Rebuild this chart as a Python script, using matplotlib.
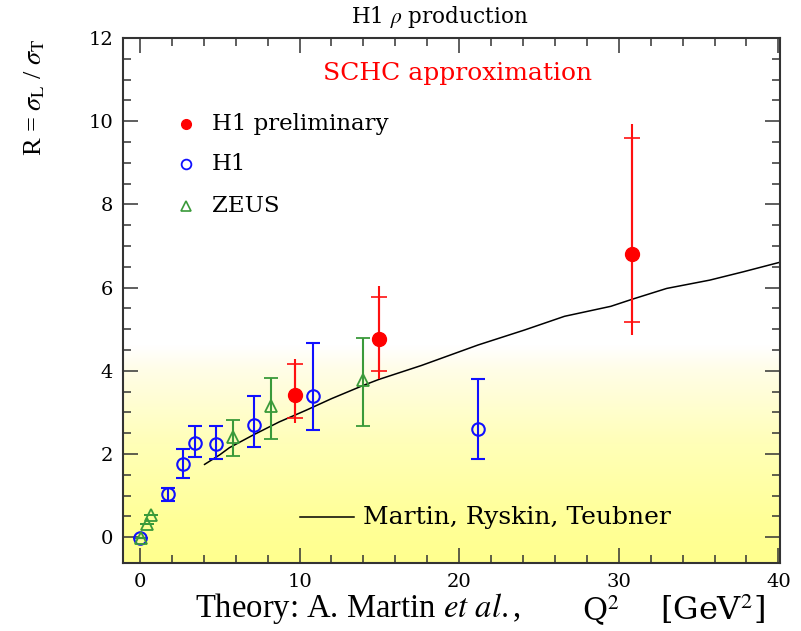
import numpy as np
import matplotlib
matplotlib.use("Agg")
import matplotlib.pyplot as plt
from matplotlib.colors import LinearSegmentedColormap

plt.rcParams['font.family'] = ['DejaVu Serif']
plt.rcParams['mathtext.fontset'] = 'stix'

# ---- data ----
h1p_x = [9.7, 15.0, 30.84]
h1p_y = [3.41, 4.76, 6.80]
h1p_stat_up = [0.76, 1.02, 2.80]
h1p_stat_dn = [0.55, 0.77, 1.62]
h1p_tot_up = [0.87, 1.27, 3.13]
h1p_tot_dn = [0.67, 0.96, 1.94]

h1_x = [0.0, 1.77, 2.70, 3.43, 4.78, 7.17, 10.86, 21.2]
h1_y = [-0.02, 1.05, 1.75, 2.27, 2.24, 2.69, 3.40, 2.61]
h1_up = [0.0, 0.14, 0.36, 0.41, 0.44, 0.71, 1.27, 1.19]
h1_dn = [0.0, 0.18, 0.32, 0.35, 0.37, 0.52, 0.83, 0.72]

zeus_x = [0.05, 0.42, 0.67, 5.82, 8.2, 14.0]
zeus_y = [-0.02, 0.31, 0.53, 2.41, 3.15, 3.77]
zeus_up = [0.0, 0.0, 0.0, 0.40, 0.67, 1.01]
zeus_dn = [0.0, 0.0, 0.0, 0.46, 0.78, 1.10]

mrt_x = [4.05, 5.0, 5.6, 7.06, 8.72, 10.4, 12.0, 14.0, 14.95, 17.65, 21.18,
         24.09, 26.6, 29.5, 30.84, 33.0, 35.7, 37.8, 40.0]
mrt_y = [1.75, 1.98, 2.15, 2.45, 2.77, 3.05, 3.33, 3.65, 3.79, 4.13, 4.62,
         4.98, 5.31, 5.55, 5.72, 5.98, 6.18, 6.38, 6.60]

x_ticks = [0, 10, 20, 30, 40]
y_ticks = [0, 2, 4, 6, 8, 10, 12]

# ---- figure ----
fig = plt.figure(figsize=(8.01, 6.31), dpi=100)
ax = fig.add_axes([123/801, 1-563/631, (780-123)/801, (563-38)/631])
xmin, xmax, ymin, ymax = -1.06, 40.1, -0.62, 12.0
ax.set_xlim(xmin, xmax)
ax.set_ylim(ymin, ymax)

# yellow gradient background (white at top -> yellow at bottom)
cmap = LinearSegmentedColormap.from_list(
    'yel', [(0.0, '#ffffff'), (0.12, '#fffde6'), (0.45, '#ffffb8'),
            (0.8, '#ffff98'), (1.0, '#ffff8e')])
grad = np.linspace(0, 1, 256).reshape(-1, 1)
ax.imshow(grad, extent=[xmin, xmax, ymin, 4.6], aspect='auto', cmap=cmap,
          vmin=0, vmax=1, zorder=0, origin='upper', interpolation='bilinear')

# theory curve
ax.plot(mrt_x, mrt_y, color='black', lw=1.1, zorder=2)

# H1 (blue open circles)
ax.errorbar(h1_x, h1_y, yerr=[h1_dn, h1_up], fmt='o', mfc='none', mec='#1010ff',
            ecolor='#1010ff', ms=9, mew=1.5, elinewidth=1.5, capsize=4.8,
            capthick=1.5, zorder=3)

# ZEUS (green open triangles)
ax.errorbar(zeus_x, zeus_y, yerr=[zeus_dn, zeus_up], fmt='^', mfc='none',
            mec='#3a9a3a', ecolor='#3a9a3a', ms=9, mew=1.3, elinewidth=1.5,
            capsize=4.8, capthick=1.5, zorder=3)

# H1 preliminary (red filled circles), total + stat errors
ax.errorbar(h1p_x, h1p_y, yerr=[h1p_tot_dn, h1p_tot_up], fmt='none',
            ecolor='#ff1010', elinewidth=1.5, capsize=0, zorder=4)
ax.errorbar(h1p_x, h1p_y, yerr=[h1p_stat_dn, h1p_stat_up], fmt='o',
            color='#ff0000', ecolor='#ff1010', ms=10, elinewidth=1.5,
            capsize=5.5, capthick=1.2, zorder=4)

# ticks
ax.set_xticks(x_ticks)
ax.set_yticks(y_ticks)
ax.set_xticks(np.arange(0, 41, 2), minor=True)
ax.set_yticks(np.arange(0, 12.01, 0.5), minor=True)
ax.tick_params(which='both', direction='in', top=True, right=True,
               color='#333333', width=1.1, labelsize=14)
ax.tick_params(which='major', length=11, pad=7)
ax.tick_params(which='minor', length=6)
for s in ax.spines.values():
    s.set_color('#333333')
    s.set_linewidth(1.5)

# legend (manual)
ax.plot([2.9], [9.93], 'o', color='#ff0000', ms=7, zorder=5)
ax.text(4.5, 9.93, 'H1 preliminary', fontsize=16.5, va='center', ha='left')
ax.plot([2.9], [8.97], 'o', mfc='none', mec='#1010ff', mew=1.3, ms=7, zorder=5)
ax.text(4.5, 8.97, 'H1', fontsize=16.5, va='center', ha='left')
ax.plot([2.9], [7.95], '^', mfc='none', mec='#3a9a3a', mew=1.2, ms=7, zorder=5)
ax.text(4.5, 7.95, 'ZEUS', fontsize=16.5, va='center', ha='left')

ax.text(19.9, 11.15, 'SCHC approximation', color='#ff0000', fontsize=18,
        ha='center', va='center')
ax.plot([10.0, 13.4], [0.48, 0.48], color='black', lw=1.1)
ax.text(14.0, 0.48, 'Martin, Ryskin, Teubner', fontsize=18, va='center',
        ha='left')

fig.text(440/801, 1-17/631, r'H1 $\rho$ production', fontsize=15.5,
         ha='center', va='center')
fig.text(35/801, 1-97/631, r'R = $\sigma_{\rm L}$ / $\sigma_{\rm T}$',
         fontsize=19, rotation=90, ha='center', va='center',
         family='Liberation Serif')
fig.text(195/801, 1-609/631, r'Theory: A. Martin $\it{et\ al.}$,', fontsize=23.5,
         ha='left', va='center', family='Liberation Serif')
fig.text(582/801, 1-610/631, r'Q$^{2}$', fontsize=22,
         ha='left', va='center')
fig.text(712/801, 1-610/631, r'[GeV$^{2}$]', fontsize=23,
         ha='center', va='center')

fig.savefig('out.png', dpi=100)
